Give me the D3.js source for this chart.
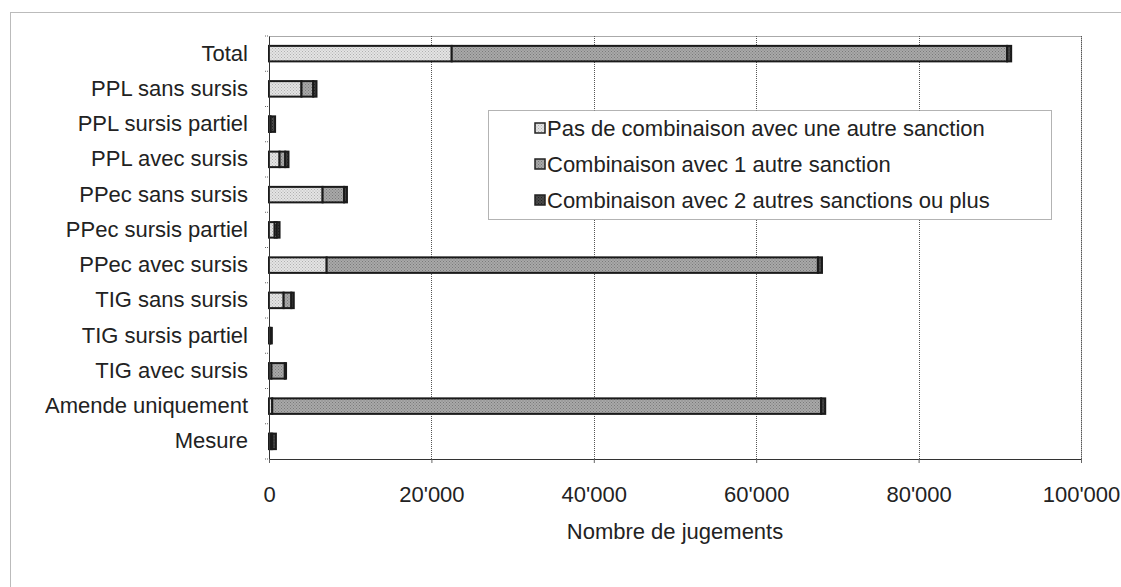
<!DOCTYPE html>
<html>
<head>
<meta charset="utf-8">
<script src="https://cdn.jsdelivr.net/npm/d3@7"></script>
<style>
  body { margin: 0; background: #fff; }
  svg { font-family: "Liberation Sans", Arial, sans-serif; }
</style>
</head>
<body>
<svg width="1121" height="587"></svg>
<script>
// categories, top to bottom
var categories = ["Total", "PPL sans sursis", "PPL sursis partiel", "PPL avec sursis",
  "PPec sans sursis", "PPec sursis partiel", "PPec avec sursis", "TIG sans sursis",
  "TIG sursis partiel", "TIG avec sursis", "Amende uniquement", "Mesure"];

// Nombre de jugements par serie
var sansCombinaison = [22500, 4000, 50, 1300, 6600, 700, 7100, 1800, 100, 300, 400, 200];
var combinaison1 = [68400, 1450, 150, 700, 2650, 250, 60500, 950, 100, 1650, 67600, 200];
var combinaison2 = [500, 400, 550, 400, 350, 350, 500, 300, 150, 150, 500, 450];

var seriesNames = ["Pas de combinaison avec une autre sanction",
  "Combinaison avec 1 autre sanction",
  "Combinaison avec 2 autres sanctions ou plus"];

var xTicks = [0, 20000, 40000, 60000, 80000, 100000];

var svg = d3.select("svg"),
    margin = {top: 36, right: 40, bottom: 128, left: 269},
    width = +svg.attr("width") - margin.left - margin.right,
    height = +svg.attr("height") - margin.top - margin.bottom,
    fontSize = 22;

// stippled fills
var defs = svg.append("defs");
function stipple(id, base, dot) {
  var p = defs.append("pattern")
      .attr("id", id)
      .attr("width", 3).attr("height", 3)
      .attr("patternUnits", "userSpaceOnUse");
  p.append("rect").attr("width", 3).attr("height", 3).attr("fill", base);
  p.append("rect").attr("width", 1).attr("height", 1).attr("fill", dot);
  p.append("rect").attr("x", 1.5).attr("y", 1.5).attr("width", 1).attr("height", 1).attr("fill", dot);
}
stipple("p0", "#e4e4e4", "#b0b0b0");
stipple("p1", "#a9a9a9", "#7a7a7a");
stipple("p2", "#4a4a4a", "#222");
var fills = ["url(#p0)", "url(#p1)", "url(#p2)"];

// outer frame
svg.append("rect")
    .attr("x", 10.5).attr("y", 12.5)
    .attr("width", 1130).attr("height", 600)
    .attr("fill", "none")
    .attr("stroke", "#777")
    .attr("stroke-dasharray", "1,1");

var g = svg.append("g").attr("transform", "translate(" + margin.left + "," + margin.top + ")");

var x = d3.scaleLinear().domain([0, 100000]).range([0, width]);
var y = d3.scaleBand().domain(categories).range([0, height]).paddingInner(0.56).paddingOuter(0.28);
var band = d3.scaleBand().domain(categories).range([0, height]);

// plot area border (dotted)
g.append("rect")
    .attr("x", 0.5).attr("y", 0.5)
    .attr("width", width).attr("height", height)
    .attr("fill", "none")
    .attr("stroke", "#555")
    .attr("stroke-dasharray", "1,1");

// gridlines
g.append("g").selectAll("line")
  .data(xTicks.slice(1))
  .enter().append("line")
    .attr("x1", function(d) { return Math.round(x(d)) + 0.5; })
    .attr("x2", function(d) { return Math.round(x(d)) + 0.5; })
    .attr("y1", 0).attr("y2", height)
    .attr("stroke", "#555")
    .attr("stroke-dasharray", "1,1");

// stacked bars
var rows = categories.map(function(c, i) {
  return {cat: c, a: sansCombinaison[i], b: combinaison1[i], c: combinaison2[i]};
});
var stack = d3.stack().keys(["a", "b", "c"])(rows);

g.append("g")
  .selectAll("g")
  .data(stack)
  .enter().append("g")
    .attr("fill", function(d, i) { return fills[i]; })
  .selectAll("rect")
  .data(function(d) { return d; })
  .enter().append("rect")
    .attr("x", function(d) { return x(d[0]); })
    .attr("y", function(d) { return y(d.data.cat); })
    .attr("width", function(d) { return x(d[1]) - x(d[0]); })
    .attr("height", y.bandwidth())
    .attr("stroke", "#1a1a1a")
    .attr("stroke-width", 2);

// y axis
var yAxis = g.append("g")
    .call(d3.axisLeft(band).tickSize(0).tickPadding(21));
yAxis.select(".domain").attr("stroke", "#333");
yAxis.selectAll("text").attr("font-size", fontSize).attr("fill", "#222").attr("font-family", "Liberation Sans, Arial, sans-serif");

// small ticks between categories
g.append("g").selectAll("line")
  .data(d3.range(categories.length + 1))
  .enter().append("line")
    .attr("x1", -4).attr("x2", 0)
    .attr("y1", function(d) { return d * band.step(); })
    .attr("y2", function(d) { return d * band.step(); })
    .attr("stroke", "#666")
    .attr("stroke-dasharray", "1,1");

// x axis
var xAxis = g.append("g")
    .attr("transform", "translate(0," + height + ")")
    .call(d3.axisBottom(x).tickValues(xTicks).tickSize(4).tickPadding(23)
      .tickFormat(function(d) { return d3.format(",")(d).replace(/,/g, "'"); }));
xAxis.select(".domain").attr("stroke", "#333");
xAxis.selectAll(".tick line").attr("stroke", "#666");
xAxis.selectAll("text").attr("font-size", fontSize).attr("fill", "#222").attr("font-family", "Liberation Sans, Arial, sans-serif");

g.append("text")
    .attr("x", width / 2)
    .attr("y", height + 80)
    .attr("text-anchor", "middle")
    .attr("font-size", fontSize)
    .attr("fill", "#222")
    .text("Nombre de jugements");

// legend
var legend = svg.append("g").attr("transform", "translate(488,110)");
legend.append("rect")
    .attr("x", 0.5).attr("y", 0.5)
    .attr("width", 563).attr("height", 109)
    .attr("fill", "#fff")
    .attr("stroke", "#666")
    .attr("stroke-dasharray", "1,1");

var item = legend.selectAll(".item")
  .data(seriesNames)
  .enter().append("g")
    .attr("class", "item")
    .attr("transform", function(d, i) { return "translate(47," + (18 + i * 36) + ")"; });

item.append("rect")
    .attr("x", 0).attr("y", -5)
    .attr("width", 10).attr("height", 10)
    .attr("fill", function(d, i) { return fills[i]; })
    .attr("stroke", "#222")
    .attr("stroke-width", 1.5);

item.append("text")
    .attr("x", 12)
    .attr("dy", "0.35em")
    .attr("font-size", fontSize)
    .attr("fill", "#222")
    .text(function(d) { return d; });
</script>
</body>
</html>
